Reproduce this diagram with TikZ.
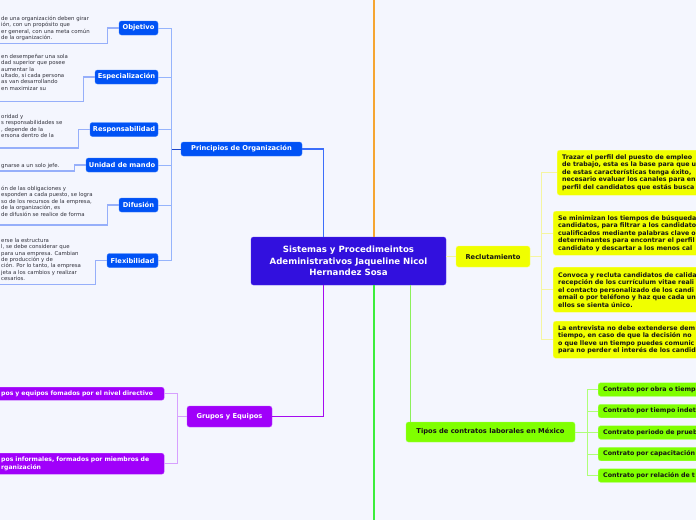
\documentclass[tikz,border=0pt]{standalone}
\usepackage{fontspec}
\setmainfont{DejaVu Sans}
\usetikzlibrary{positioning}
\definecolor{bgcol}{RGB}{244,246,254}
\definecolor{centralcol}{RGB}{50,16,222}
\definecolor{centraledge}{RGB}{80,50,240}
\definecolor{bluecol}{RGB}{0,82,245}
\definecolor{blueedge}{RGB}{50,120,255}
\definecolor{purplecol}{RGB}{160,0,250}
\definecolor{purpleedge}{RGB}{190,80,255}
\definecolor{yellowcol}{RGB}{240,255,0}
\definecolor{yellowedge}{RGB}{250,255,110}
\definecolor{greencol}{RGB}{128,255,0}
\definecolor{greenedge}{RGB}{160,255,90}
\definecolor{darktext}{RGB}{20,20,20}
\definecolor{notecol}{RGB}{50,50,60}
\definecolor{orangecol}{RGB}{245,165,50}
\definecolor{limecol}{RGB}{60,238,60}
\definecolor{purplelinecol}{RGB}{165,10,240}
\definecolor{tiplinecol}{RGB}{140,240,90}
\definecolor{bluelinecol}{RGB}{60,110,250}
\definecolor{busdark}{RGB}{30,70,200}
\definecolor{subcol}{RGB}{150,180,252}
\definecolor{notelinkcol}{RGB}{150,175,250}
\definecolor{purplesub}{RGB}{215,160,255}
\definecolor{yellowsub}{RGB}{245,245,160}
\definecolor{greensub}{RGB}{175,255,120}

\begin{document}
\begin{tikzpicture}[x=1pt,y=1pt,yscale=-1,xscale=1,
  mainbox/.style={draw=centraledge,fill=centralcol,rounded corners=2.5,text=white,font=\fontsize{8.6}{11.5}\selectfont\bfseries,align=center,minimum width=195,minimum height=48,inner sep=0},
  bluebox/.style={draw=blueedge,fill=bluecol,rounded corners=2.5,text=white,font=\fontsize{6.7}{8}\selectfont\bfseries,minimum height=14,inner sep=0},
  purplebox/.style={draw=purpleedge,fill=purplecol,rounded corners=2.5,text=white,font=\fontsize{6.7}{8}\selectfont\bfseries,minimum height=21,inner sep=0},
  purpleleaf/.style={purplebox,font=\fontsize{6.1}{8}\selectfont\bfseries,align=left,inner xsep=4,inner ysep=0},
  yellowbox/.style={draw=yellowedge,fill=yellowcol,rounded corners=2.5,text=darktext,font=\fontsize{6.7}{8}\selectfont\bfseries,minimum height=21,inner sep=0},
  yellowleaf/.style={yellowbox,font=\fontsize{6.3}{7.5}\selectfont\bfseries,align=left,text width=200,inner xsep=5,inner ysep=0},
  greenbox/.style={draw=greenedge,fill=greencol,rounded corners=2.5,text=darktext,font=\fontsize{6.7}{8}\selectfont\bfseries,minimum height=20,inner sep=0},
  greenleaf/.style={greenbox,font=\fontsize{6.3}{7.5}\selectfont\bfseries,align=left,text width=150,inner xsep=5,minimum height=13.5},
  notetext/.style={text=notecol,font=\fontsize{5.4}{6.4}\selectfont,align=left,inner sep=0,anchor=north west},
  trunk/.style={line width=2},
  bluelink/.style={draw=bluelinecol,line width=1.5},
  sublink/.style={draw=subcol,line width=1},
  notelink/.style={draw=notelinkcol,line width=1.2},
  purplelink/.style={draw=purplesub,line width=1},
  yellowlink/.style={draw=yellowsub,line width=1},
  greenlink/.style={draw=greensub,line width=1}
]
\useasboundingbox (0,0) rectangle (696,520);
\fill[bgcol] (0,0) rectangle (696,520);

%Central node
\node[mainbox] (central) at (348.5,261) {Sistemas y Procedimeintos\\Adeministrativos Jaqueline Nicol\\Hernandez Sosa};

%Principios de Organizacion
\node[bluebox,minimum width=121] (prin) at (241.5,149) {Principios de Organización};
\node[bluebox,minimum width=39] (obj) at (138.5,28) {Objetivo};
\node[bluebox,minimum width=63] (esp) at (126.5,77) {Especialización};
\node[bluebox,minimum width=68] (resp) at (124,129.5) {Responsabilidad};
\node[bluebox,minimum width=72] (uni) at (122,165) {Unidad de mando};
\node[bluebox,minimum width=39] (dif) at (138.5,205) {Difusión};
\node[bluebox,minimum width=51] (flex) at (132.5,260.5) {Flexibilidad};

%Notes
\node[notetext] (objtxt) at (1,16) {de una organización deben girar\\ión, con un propósito que\\er general, con una meta común\\de la organización.};
\node[notetext] (esptxt) at (1,54) {en desempeñar una sola\\dad superior que posee\\aumentar la\\ultado, si cada persona\\as van desarrollando\\en maximizar su};
\node[notetext] (resptxt) at (1,114) {oridad y\\s responsabilidades se\\, depende de la\\ersona dentro de la};
\node[notetext] (unitxt) at (1,163) {gnarse a un solo jefe.};
\node[notetext] (diftxt) at (1,186) {ón de las obligaciones y\\esponden a cada puesto, se logra\\so de los recursos de la empresa,\\de la organización, es\\de difusión se realice de forma};
\node[notetext] (flextxt) at (1,238) {erse la estructura\\l, se debe considerar que\\para una empresa. Cambian\\de producción y de\\ción. Por lo tanto, la empresa\\jeta a los cambios y realizar\\cesarios.};

%Reclutamiento
\node[yellowbox,minimum width=74] (rec) at (493,256.5) {Reclutamiento};
\node[yellowleaf,anchor=north west,minimum height=45] (rec1) at (557,150) {Trazar el perfil del puesto de empleo\\de trabajo, esta es la base para que u\\de estas características tenga éxito,\\necesario evaluar los canales para en\\perfil del candidatos que estás busca};
\node[yellowleaf,anchor=north west,minimum height=44] (rec2) at (553,211) {Se minimizan los tiempos de búsqueda\\candidatos, para filtrar a los candidato\\cualificados mediante palabras clave o\\determinantes para encontrar el perfil\\candidato y descartar a los menos cal};
\node[yellowleaf,anchor=north west,minimum height=45] (rec3) at (553,267) {Convoca y recluta candidatos de calida\\recepción de los currículum vitae reali\\el contacto personalizado de los candi\\email o por teléfono y haz que cada un\\ellos se sienta único.};
\node[yellowleaf,anchor=north west,minimum height=37] (rec4) at (553,321) {La entrevista no debe extenderse dem\\tiempo, en caso de que la decisión no\\o que lleve un tiempo puedes comunic\\para no perder el interés de los candid};

%Grupos y Equipos
\node[purplebox,minimum width=85] (grp) at (229.5,416.5) {Grupos y Equipos};
\node[purpleleaf,text width=159,minimum height=13,anchor=north west] (gdir) at (-3,387) {\mbox{pos y equipos fomados por el nivel directivo}};
\node[purpleleaf,text width=159,minimum height=21,anchor=north west] (ginf) at (-3,453) {pos informales, formados por miembros de\\rganización};

%Tipos de contratos
\node[greenbox,minimum width=169] (tip) at (490.5,432) {Tipos de contratos laborales en México};
\node[greenleaf,anchor=west] (c1) at (598,389.5) {Contrato por obra o tiemp};
\node[greenleaf,anchor=west] (c2) at (598,411) {Contrato por tiempo indet};
\node[greenleaf,anchor=west] (c3) at (598,432.5) {Contrato periodo de prueb};
\node[greenleaf,anchor=west] (c4) at (598,454) {Contrato por capacitación};
\node[greenleaf,anchor=west] (c5) at (598,475.5) {Contrato por relación de t};

%Coordinates
\coordinate (pbus) at (171,149);
\coordinate (rbus) at (541,256.5);
\coordinate (gbus) at (177,416.5);
\coordinate (tbus) at (587,432);
\coordinate (otop) at (373.5,0);
\coordinate (gbot) at (373.5,520);
\coordinate (objU) at (0,43.5);
\coordinate (espU) at (0,101.5);
\coordinate (respU) at (0,148);
\coordinate (uniU) at (0,171);
\coordinate (difU) at (0,225);
\coordinate (flexU) at (0,284.5);

%Main branches
\draw[bluelink] ([xshift=-25]central.north) |- (prin.east);
\draw[trunk,draw=orangecol] ([xshift=25]central.north) -- (otop);
\draw[trunk,draw=purplelinecol,line width=1.5] ([xshift=-25]central.south) |- (grp.east);
\draw[trunk,draw=limecol] ([xshift=25]central.south) -- (gbot);
\draw[trunk,draw=tiplinecol,line width=1.5] ([xshift=62]central.south) -- ([xshift=62]central.south |- tip.north);
\draw[yellowlink] (central.east |- rec.west) -- (rec.west);

%Sub branches
\draw[busdark,line width=1] (prin.west) -- (pbus);
\foreach \n in {obj,esp,resp,uni,dif,flex}
  \draw[sublink] (\n.east) -| (pbus);
\foreach \n in {obj,esp,resp,uni,dif,flex}
  \draw[notelink] (\n.west) -- ++(-11,0) |- (\n U);
\draw[yellowlink] (rec.east) -- (rbus);
\foreach \n in {rec1,rec2,rec3,rec4}
  \draw[yellowlink] (rbus) |- (\n.west);
\draw[purplelink] (grp.west) -- (gbus);
\foreach \n in {gdir,ginf}
  \draw[purplelink] (gbus) |- (\n.east);
\draw[greenlink] (tip.east) -- (tbus);
\foreach \n in {c1,c2,c3,c4,c5}
  \draw[greenlink] (tbus) |- (\n.west);
\end{tikzpicture}
\end{document}
